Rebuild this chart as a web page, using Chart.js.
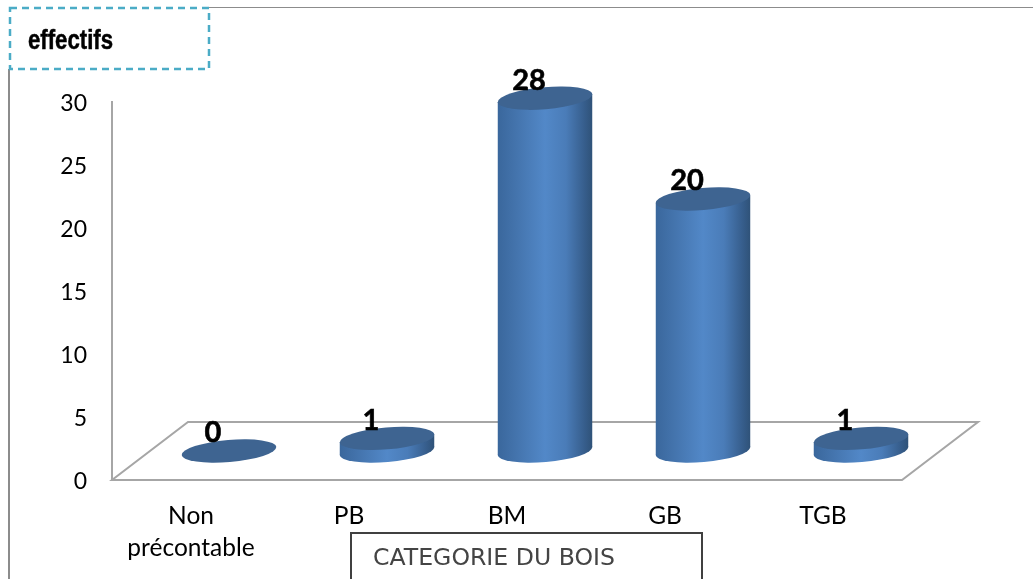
<!DOCTYPE html>
<html>
<head>
<meta charset="utf-8">
<title>effectifs</title>
<script src="https://cdn.jsdelivr.net/npm/chart.js@4/dist/chart.umd.min.js"></script>
<style>
  html, body { margin: 0; padding: 0; background: #fff; overflow: hidden; }
  canvas { display: block; }
</style>
</head>
<body>
<canvas id="chart" width="1033" height="579"></canvas>
<script>
const categories = [['Non', 'précontable'], 'PB', 'BM', 'GB', 'TGB'];
const effectifs = [0, 1, 28, 20, 1];
const yTicks = [0, 5, 10, 15, 20, 25, 30];

// the floor goes back by this much, the bars stand half way on it
const depthX = 76;
const depthY = 58;

// floor of the fake 3d box, behind the bars
const floorPlugin = {
  id: 'floor',
  beforeDatasetsDraw(chart) {
    const ctx = chart.ctx;
    const a = chart.chartArea;
    ctx.save();
    ctx.strokeStyle = '#a6a6a6';
    ctx.lineWidth = 2;
    ctx.beginPath();
    ctx.moveTo(a.left, a.bottom);
    ctx.lineTo(a.right, a.bottom);
    ctx.lineTo(a.right + depthX, a.bottom - depthY);
    ctx.lineTo(a.left + depthX, a.bottom - depthY);
    ctx.closePath();
    ctx.stroke();
    ctx.restore();
  }
};

// Chart.js has no cylinders so each bar element is painted as one
const cylinderPlugin = {
  id: 'cylinders',
  afterDatasetsDraw(chart) {
    const ctx = chart.ctx;
    const tilt = -0.085;
    const ry = 11;
    chart.getDatasetMeta(0).data.forEach((bar, i) => {
      const cx = bar.x + depthX / 2;
      const top = bar.y - depthY / 2;
      const bottom = bar.base - depthY / 2;
      const rx = bar.width / 2;
      // where the tilted ellipse reaches its left and right ends
      const side = Math.sqrt(rx * rx * Math.cos(tilt) ** 2 + ry * ry * Math.sin(tilt) ** 2);
      const drop = (rx * rx - ry * ry) * Math.sin(-tilt) * Math.cos(tilt) / side;

      ctx.save();
      if (bottom - top > 0) {
        const grad = ctx.createLinearGradient(cx - rx, 0, cx + rx, 0);
        grad.addColorStop(0, '#3a679c');
        grad.addColorStop(0.2, '#4474ad');
        grad.addColorStop(0.5, '#5288c8');
        grad.addColorStop(0.72, '#4a7cb8');
        grad.addColorStop(0.92, '#365d8b');
        grad.addColorStop(1, '#2f5278');
        ctx.fillStyle = grad;
        ctx.beginPath();
        ctx.ellipse(cx, bottom, rx, ry, tilt, 0, Math.PI * 2);
        ctx.fill();
        ctx.beginPath();
        ctx.moveTo(cx - side, top + drop);
        ctx.lineTo(cx + side, top - drop);
        ctx.lineTo(cx + side, bottom - drop);
        ctx.lineTo(cx - side, bottom + drop);
        ctx.closePath();
        ctx.fill();
      }
      ctx.fillStyle = '#3e6491';
      ctx.beginPath();
      ctx.ellipse(cx, top, rx, ry, tilt, 0, Math.PI * 2);
      ctx.fill();

      ctx.fillStyle = '#000';
      ctx.strokeStyle = '#000';
      ctx.lineWidth = 0.6;
      ctx.font = 'bold 29px Lato';
      ctx.textAlign = 'center';
      ctx.textBaseline = 'middle';
      ctx.fillText(effectifs[i], cx - 16, top - 18);
      ctx.strokeText(effectifs[i], cx - 16, top - 18);
      ctx.restore();
    });
  }
};

// the two text boxes and the frame lines around the chart
const framePlugin = {
  id: 'frame',
  afterDraw(chart) {
    const ctx = chart.ctx;
    ctx.save();

    ctx.strokeStyle = '#8c8c8c';
    ctx.lineWidth = 2;
    ctx.beginPath();
    ctx.moveTo(9, 69);
    ctx.lineTo(9, 579);
    ctx.stroke();
    ctx.lineWidth = 1;
    ctx.beginPath();
    ctx.moveTo(209, 7.5);
    ctx.lineTo(1033, 7.5);
    ctx.stroke();

    ctx.strokeStyle = '#4bacc6';
    ctx.lineWidth = 2.5;
    ctx.setLineDash([7, 5]);
    ctx.strokeRect(10, 8, 199, 61);
    ctx.setLineDash([]);

    ctx.fillStyle = '#000';
    ctx.strokeStyle = '#000';
    ctx.lineWidth = 0.5;
    ctx.textBaseline = 'middle';
    ctx.textAlign = 'left';
    ctx.font = 'bold 27px "Liberation Sans"';
    ctx.fillText('effectifs', 28, 42, 85);
    ctx.strokeText('effectifs', 28, 42, 85);

    ctx.strokeStyle = '#404040';
    ctx.lineWidth = 2;
    ctx.beginPath();
    ctx.moveTo(351, 579);
    ctx.lineTo(351, 533);
    ctx.lineTo(702, 533);
    ctx.lineTo(702, 579);
    ctx.stroke();

    ctx.fillStyle = '#444';
    ctx.font = '23.6px "DejaVu Sans"';
    ctx.fillText('CATEGORIE DU BOIS', 373, 559);
    ctx.restore();
  }
};

new Chart(document.getElementById('chart').getContext('2d'), {
  type: 'bar',
  data: {
    labels: categories,
    datasets: [{
      data: effectifs,
      backgroundColor: 'rgba(0,0,0,0)',
      barPercentage: 0.6,
      categoryPercentage: 1
    }]
  },
  plugins: [floorPlugin, cylinderPlugin, framePlugin],
  options: {
    responsive: false,
    animation: false,
    layout: { padding: { top: 102, right: 131, left: 0, bottom: 0 } },
    plugins: { legend: { display: false }, tooltip: { enabled: false } },
    scales: {
      x: {
        grid: { display: false, drawTicks: false },
        border: { display: false },
        afterFit(scale) { scale.height = 99; },
        ticks: {
          color: '#000',
          padding: 20,
          maxRotation: 0,
          autoSkip: false,
          font: { family: 'Lato', size: 24.5, lineHeight: 1.3 }
        }
      },
      y: {
        min: 0,
        max: 30,
        afterFit(scale) {
          scale.width = 112;
          if (scale.labelsMoved) return;
          scale.labelsMoved = true;
          // Lato sits a bit high, push the tick labels down to line up
          const items = scale._computeLabelItems.bind(scale);
          scale._computeLabelItems = area => {
            const out = items(area);
            out.forEach(item => { item.options.translation[1] += 2; });
            return out;
          };
        },
        afterBuildTicks(scale) { scale.ticks = yTicks.map(v => ({ value: v })); },
        grid: { display: false, drawTicks: false },
        border: { display: true, color: '#a6a6a6', width: 2 },
        ticks: {
          color: '#000',
          padding: 25,
          font: { family: 'Lato', size: 23 }
        }
      }
    }
  }
});
</script>
</body>
</html>
